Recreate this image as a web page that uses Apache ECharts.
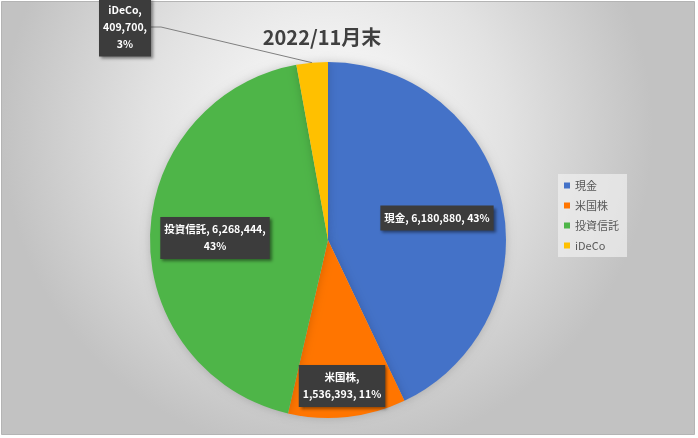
<!DOCTYPE html>
<html><head><meta charset="utf-8">
<script src="https://cdn.jsdelivr.net/npm/echarts@6/dist/echarts.min.js"></script>
<style>html,body{margin:0;padding:0;background:#fff}#c{width:698px;height:438px}</style>
</head><body><div id="c"></div>
<script>
const categories = ['現金', '米国株', '投資信託', 'iDeCo'];
const values = [6180880, 1536393, 6268444, 409700];
const colors = ['#4472C8', '#FF7500', '#4EB548', '#FFC000'];
const titleText = '2022/11月末';
// label line-break layout: 0 = single line
const breakStyle = [0, 1, 2, 3];
const labelPos = [[437, 218], [342, 386], [215, 238], [125, 27]];

const fmtNum = v => v.toLocaleString('en-US');
const chart = echarts.init(document.getElementById('c'));
chart.setOption({
  backgroundColor: 'transparent',
  graphic: [{type: 'rect', z: -10, silent: true,
    shape: {x: 1.5, y: 1.5, width: 693, height: 433},
    style: {
      fill: {type: 'radial', x: 0.47, y: 0.3, r: 0.75,
        colorStops: [{offset: 0, color: '#ffffff'}, {offset: 0.55, color: '#e2e2e2'}, {offset: 1, color: '#c2c2c2'}]},
      stroke: '#b4b4b4', lineWidth: 1}
  }],
  title: {
    text: titleText, left: 317, top: 22, textAlign: 'center',
    textStyle: {fontFamily: 'Noto Sans CJK JP', fontSize: 20, fontWeight: 'bold', color: '#404040'}
  },
  legend: {
    orient: 'vertical', left: 558, top: 174, itemWidth: 6, itemHeight: 6, itemGap: 9,
    icon: 'rect', padding: [6, 8, 6, 6],
    backgroundColor: 'rgba(240,240,240,0.7)',
    textStyle: {fontFamily: 'Noto Sans CJK JP', fontSize: 11, color: '#595959'},
    data: categories
  },
  series: [{
    type: 'pie',
    center: [328, 240], radius: 178,
    startAngle: 90, clockwise: true,
    percentPrecision: 0,
    color: colors,
    itemStyle: {shadowBlur: 10, shadowColor: 'rgba(0,0,0,0.18)'},
    label: {
      show: true, position: 'inside',
      formatter: p => {
        const b = breakStyle[p.dataIndex];
        const n = fmtNum(p.value), pc = p.percent + '%';
        if (b === 1) return p.name + ',\n' + n + ', ' + pc;
        if (b === 2) return p.name + ', ' + n + ',\n' + pc;
        if (b === 3) return p.name + ',\n' + n + ',\n' + pc;
        return p.name + ', ' + n + ', ' + pc;
      },
      fontFamily: 'Noto Sans CJK JP', fontSize: 10.5, fontWeight: 'bold', color: '#ffffff',
      lineHeight: 17, align: 'center',
      backgroundColor: '#3c3c3c', padding: [4, 4, 4, 4],
      shadowBlur: 3, shadowOffsetX: 2, shadowOffsetY: 2, shadowColor: 'rgba(0,0,0,0.45)'
    },
    labelLine: {show: false},
    labelLayout: p => ({
      x: labelPos[p.dataIndex][0], y: labelPos[p.dataIndex][1],
      align: 'center', verticalAlign: 'middle'
    }),
    data: categories.map((c, i) => {
      const d = {name: c, value: values[i]};
      if (i === 3) {
        d.label = {position: 'outside'};
        d.labelLine = {show: true, length: 10, length2: 10, lineStyle: {color: '#808080', width: 1}};
      }
      return d;
    })
  }]
});
</script></body></html>
